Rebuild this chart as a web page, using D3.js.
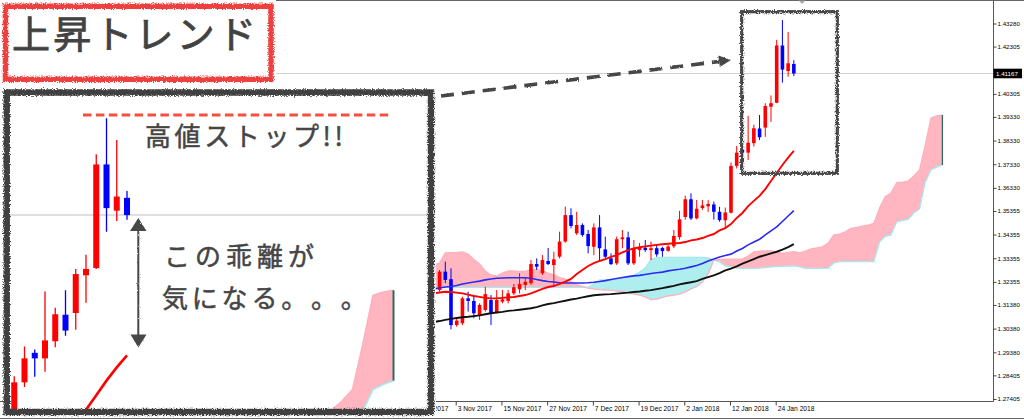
<!DOCTYPE html>
<html>
<head>
<meta charset="utf-8">
<script src="https://cdn.jsdelivr.net/npm/d3@7/dist/d3.min.js"></script>
<style>
html,body{margin:0;padding:0;background:#fff;overflow:hidden}
svg{display:block}
text{text-spacing-trim:space-all}
</style>
</head>
<body>
<svg id="chart" width="1024" height="419" xmlns="http://www.w3.org/2000/svg"></svg>
<script>
// ---------------- DATA (GBPUSD daily) ----------------
const firstBar = 4; // bar index of the first candle (bar 0 = 24 Oct 2017)
const opens = [1.3125,1.3201,1.3279,1.3247,1.3053,1.3061,1.3166,1.3155,1.3096,1.3117,
  1.3159,1.3105,1.3152,1.3155,1.3187,1.3204,1.3223,1.3230,1.3311,1.3272,
  1.3324,1.3307,1.3342,1.3406,1.3518,1.3441,1.3476,1.3438,1.3384,1.3466,
  1.3373,1.3335,1.3314,1.3416,1.3424,1.3314,1.3370,1.3380,1.3370,1.3378,
  1.3379,1.3367,1.3386,1.3425,1.3510,1.3585,1.3504,1.3548,1.3555,1.3563,
  1.3532,1.3496,1.3528,1.3726,1.3795,1.3782,1.3822,1.3884,1.3888,1.3976,
  1.3993,1.4235,1.4127,1.4157];
const highs = [1.3218,1.3286,1.3321,1.3293,1.3082,1.3173,1.3194,1.3180,1.3145,1.3215,
  1.3180,1.3201,1.3201,1.3201,1.3227,1.3272,1.3251,1.3328,1.3335,1.3349,
  1.3379,1.3363,1.3448,1.3554,1.3547,1.3532,1.3483,1.3455,1.3483,1.3518,
  1.3427,1.3356,1.3427,1.3455,1.3448,1.3413,1.3400,1.3413,1.3406,1.3392,
  1.3384,1.3392,1.3455,1.3536,1.3600,1.3610,1.3582,1.3582,1.3581,1.3575,
  1.3553,1.3550,1.3740,1.3810,1.3803,1.3938,1.3900,1.3941,1.3991,1.4024,
  1.4259,1.4343,1.4292,1.4173];
const lows = [1.3117,1.3194,1.3230,1.3035,1.3046,1.3053,1.3110,1.3082,1.3075,1.3110,
  1.3053,1.3103,1.3145,1.3145,1.3180,1.3187,1.3201,1.3223,1.3286,1.3265,
  1.3307,1.3215,1.3335,1.3401,1.3462,1.3434,1.3427,1.3356,1.3349,1.3328,
  1.3335,1.3307,1.3307,1.3378,1.3307,1.3307,1.3342,1.3363,1.3328,1.3342,
  1.3342,1.3363,1.3378,1.3414,1.3499,1.3497,1.3500,1.3540,1.3532,1.3499,
  1.3490,1.3462,1.3525,1.3715,1.3739,1.3751,1.3808,1.3835,1.3849,1.3912,
  1.3991,1.4078,1.4103,1.4106];
const closes = [1.3210,1.3279,1.3244,1.3053,1.3072,1.3166,1.3155,1.3103,1.3138,1.3184,
  1.3103,1.3159,1.3162,1.3187,1.3213,1.3227,1.3236,1.3311,1.3300,1.3328,
  1.3311,1.3331,1.3406,1.3518,1.3472,1.3476,1.3434,1.3387,1.3466,1.3378,
  1.3342,1.3311,1.3416,1.3424,1.3314,1.3378,1.3379,1.3370,1.3378,1.3352,
  1.3366,1.3385,1.3430,1.3500,1.3585,1.3504,1.3545,1.3559,1.3565,1.3532,
  1.3497,1.3529,1.3726,1.3782,1.3782,1.3824,1.3885,1.3847,1.3979,1.3991,
  1.4235,1.4133,1.4160,1.41167];
// moving averages (red / blue / black)
const maFast = [1.3187,1.3191,1.3194,1.3193,1.3190,1.3187,1.3182,1.3176,1.3172,1.3168,
  1.3166,1.3166,1.3168,1.3170,1.3172,1.3176,1.3180,1.3187,1.3197,1.3206,
  1.3214,1.3218,1.3227,1.3237,1.3248,1.3269,1.3286,1.3303,1.3315,1.3324,
  1.3332,1.3341,1.3349,1.3360,1.3370,1.3377,1.3382,1.3386,1.3389,1.3392,
  1.3395,1.3397,1.3399,1.3400,1.3404,1.3411,1.3415,1.3421,1.3430,1.3438,
  1.3453,1.3463,1.3480,1.3506,1.3527,1.3556,1.3578,1.3599,1.3628,1.3662,
  1.3696,1.3730,1.3761,1.3789];
const maMid = [1.3206,1.3210,1.3214,1.3216,1.3220,1.3227,1.3231,1.3235,1.3239,1.3244,
  1.3248,1.3251,1.3252,1.3253,1.3253,1.3253,1.3253,1.3251,1.3246,1.3241,
  1.3237,1.3235,1.3232,1.3231,1.3231,1.3231,1.3231,1.3232,1.3234,1.3237,
  1.3241,1.3246,1.3250,1.3254,1.3258,1.3261,1.3263,1.3267,1.3271,1.3274,
  1.3277,1.3282,1.3286,1.3289,1.3293,1.3299,1.3305,1.3313,1.3324,1.3332,
  1.3341,1.3347,1.3353,1.3366,1.3377,1.3392,1.3404,1.3416,1.3434,1.3451,
  1.3468,1.3491,1.3514,1.3537];
const maSlow = [1.3066,1.3070,1.3075,1.3079,1.3083,1.3086,1.3088,1.3091,1.3094,1.3099,
  1.3103,1.3106,1.3109,1.3113,1.3115,1.3118,1.3121,1.3124,1.3129,1.3136,
  1.3142,1.3146,1.3151,1.3156,1.3161,1.3165,1.3170,1.3175,1.3179,1.3181,
  1.3183,1.3184,1.3186,1.3188,1.3190,1.3193,1.3195,1.3198,1.3201,1.3205,
  1.3209,1.3214,1.3219,1.3225,1.3230,1.3234,1.3239,1.3248,1.3256,1.3263,
  1.3273,1.3284,1.3292,1.3301,1.3313,1.3322,1.3332,1.3342,1.3349,1.3356,
  1.3363,1.3372,1.3383,1.3395];
// Ichimoku cloud spans (bar 4 .. bar 93, shifted forward)
const spanA = [1.3307,1.3315,1.3358,1.3359,1.3360,1.3362,1.3353,1.3330,1.3311,1.3282,
  1.3265,1.3260,1.3273,1.3282,1.3282,1.3280,1.3280,1.3288,1.3286,1.3282,
  1.3273,1.3265,1.3254,1.3248,1.3237,1.3225,1.3216,1.3209,1.3206,1.3203,
  1.3201,1.3201,1.3197,1.3195,1.3191,1.3184,1.3180,1.3172,1.3161,1.3163,
  1.3170,1.3176,1.3180,1.3184,1.3193,1.3206,1.3216,1.3235,1.3269,1.3328,
  1.3331,1.3332,1.3332,1.3332,1.3332,1.3345,1.3363,1.3366,1.3367,1.3367,
  1.3362,1.3356,1.3360,1.3363,1.3358,1.3366,1.3375,1.3379,1.3384,1.3400,
  1.3434,1.3438,1.3447,1.3462,1.3466,1.3471,1.3476,1.3483,1.3548,1.3596,
  1.3611,1.3655,1.3657,1.3662,1.3683,1.3709,1.3814,1.3929,1.3937,1.3941];
const spanB = [1.3212,1.3212,1.3212,1.3212,1.3212,1.3212,1.3212,1.3212,1.3212,1.3212,
  1.3212,1.3212,1.3212,1.3212,1.3212,1.3212,1.3212,1.3212,1.3212,1.3212,
  1.3212,1.3212,1.3212,1.3212,1.3212,1.3212,1.3212,1.3212,1.3227,1.3244,
  1.3244,1.3244,1.3248,1.3250,1.3256,1.3263,1.3277,1.3294,1.3332,1.3337,
  1.3339,1.3339,1.3339,1.3339,1.3339,1.3339,1.3339,1.3339,1.3337,1.3328,
  1.3320,1.3303,1.3299,1.3294,1.3293,1.3293,1.3293,1.3294,1.3296,1.3299,
  1.3300,1.3301,1.3302,1.3303,1.3299,1.3293,1.3293,1.3293,1.3293,1.3293,
  1.3315,1.3321,1.3321,1.3321,1.3321,1.3321,1.3321,1.3321,1.3404,1.3428,
  1.3434,1.3489,1.3495,1.3500,1.3527,1.3544,1.3658,1.3709,1.3721,1.3730];
const priceTicks = [1.43280,1.42305,1.41305,1.40305,1.39330,1.38330,1.37330,1.36330,
  1.35355,1.34355,1.33355,1.32355,1.31380,1.30380,1.29380,1.28405,1.27405];
const dateTicks = ["24 Oct 2017","3 Nov 2017","15 Nov 2017","27 Nov 2017","7 Dec 2017",
  "19 Dec 2017","2 Jan 2018","12 Jan 2018","24 Jan 2018"];
const dateTickBars = [0,8,16,24,32,40,48,56,64];
const lastPrice = 1.41167;
const titleText = "上昇トレンド";
const noteHigh = "高値ストップ!!";
const noteGap1 = "この乖離が";
const noteGap2 = "気になる。。。";

// ---------------- SETUP ----------------
const W = 1024, H = 419;
const svg = d3.select("#chart");
const defs = svg.append("defs");
function roughFilter(id, freq, scale, seed) {
  const f = defs.append("filter").attr("id", id).attr("filterUnits", "userSpaceOnUse")
    .attr("x", 0).attr("y", 0).attr("width", W).attr("height", H);
  f.append("feTurbulence").attr("type", "fractalNoise").attr("baseFrequency", freq)
    .attr("numOctaves", 2).attr("seed", seed).attr("result", "n");
  f.append("feDisplacementMap").attr("in", "SourceGraphic").attr("in2", "n")
    .attr("scale", scale).attr("xChannelSelector", "R").attr("yChannelSelector", "G");
}
roughFilter("rough", 0.9, 4.5, 2);
roughFilter("roughSoft", 0.7, 2.2, 5);

svg.append("rect").attr("width", W).attr("height", H).attr("fill", "#fff");

const plotRight = 993.5, plotBottom = 401.5;
defs.append("clipPath").attr("id", "plotClip").append("rect")
  .attr("x", 0).attr("y", 0).attr("width", plotRight).attr("height", plotBottom);

const x = d3.scaleLinear().domain([0, 64]).range([411, 776.7]);
const y = d3.scaleLinear().domain([1.27405, 1.43280]).range([399, 23.5]);

function drawChart(g, xs, ys, opt, id) {
  const cloud = spanA.map((a, k) => ({ i: firstBar + k, a, b: spanB[k] }));
  const above = d3.area().x(d => xs(d.i)).y0(-5000).y1(d => ys(d.b));
  const below = d3.area().x(d => xs(d.i)).y0(5000).y1(d => ys(d.b));
  defs.append("clipPath").attr("id", id + "Above").append("path").attr("d", above(cloud));
  defs.append("clipPath").attr("id", id + "Below").append("path").attr("d", below(cloud));
  const band = d3.area().x(d => xs(d.i)).y0(d => ys(d.a)).y1(d => ys(d.b));
  g.append("path").attr("d", band(cloud)).attr("fill", "#ffb6c1").attr("clip-path", `url(#${id}Above)`);
  g.append("path").attr("d", band(cloud)).attr("fill", "#afeeee").attr("clip-path", `url(#${id}Below)`);
  g.append("path").attr("d", d3.line().x(d => xs(d.i)).y(d => ys(d.b))(cloud))
    .attr("fill", "none").attr("stroke", "#a8e8ec").attr("stroke-width", opt.spanW);
  g.append("path").attr("d", d3.line().x(d => xs(d.i)).y(d => ys(d.a))(cloud))
    .attr("fill", "none").attr("stroke", "#ffb0bc").attr("stroke-width", opt.spanW);
  const last = cloud[cloud.length - 1];
  g.append("line").attr("x1", xs(last.i)).attr("x2", xs(last.i))
    .attr("y1", ys(last.a)).attr("y2", ys(last.b))
    .attr("stroke", "#2f6b5c").attr("stroke-width", opt.endW);

  const bars = opens.map((o, k) => ({ i: firstBar + k, o, h: highs[k], l: lows[k], c: closes[k] }));
  const col = d => d.c >= d.o ? "#ff0000" : "#0000ff";
  g.selectAll(null).data(bars).join("line")
    .attr("x1", d => xs(d.i)).attr("x2", d => xs(d.i))
    .attr("y1", d => ys(d.h)).attr("y2", d => ys(d.l))
    .attr("stroke", col).attr("stroke-width", opt.wick);
  g.selectAll(null).data(bars).join("rect")
    .attr("x", d => xs(d.i) - opt.body / 2).attr("width", opt.body)
    .attr("y", d => ys(Math.max(d.o, d.c)))
    .attr("height", d => Math.max(1.2, Math.abs(ys(d.o) - ys(d.c))))
    .attr("fill", col);

  const maLine = d3.line().x((v, k) => xs(firstBar + k)).y(v => ys(v));
  g.append("path").attr("d", maLine(maSlow)).attr("fill", "none").attr("stroke", "#111").attr("stroke-width", opt.maW);
  g.append("path").attr("d", maLine(maMid)).attr("fill", "none").attr("stroke", "#2a2af2").attr("stroke-width", opt.maW * 0.85);
  g.append("path").attr("d", maLine(maFast)).attr("fill", "none").attr("stroke", "#ff0000").attr("stroke-width", opt.maW);
}

// ---------------- MAIN CHART ----------------
const gMain = svg.append("g").attr("clip-path", "url(#plotClip)");
gMain.append("line").attr("x1", 0).attr("x2", plotRight)
  .attr("y1", y(lastPrice)).attr("y2", y(lastPrice))
  .attr("stroke", "#cfcfcf").attr("stroke-width", 1);
drawChart(gMain, x, y, { body: 3.6, wick: 1, maW: 1.9, spanW: 1.3, endW: 1.3 }, "main");

// axes frame
svg.append("line").attr("x1", plotRight).attr("x2", plotRight).attr("y1", 0).attr("y2", plotBottom)
  .attr("stroke", "#555").attr("stroke-width", 1);
svg.append("line").attr("x1", 0).attr("x2", plotRight).attr("y1", plotBottom).attr("y2", plotBottom)
  .attr("stroke", "#555").attr("stroke-width", 1);
svg.append("line").attr("x1", 273).attr("x2", W).attr("y1", 0.5).attr("y2", 0.5)
  .attr("stroke", "#666").attr("stroke-width", 1);
svg.append("line").attr("x1", 0).attr("x2", W).attr("y1", 418.5).attr("y2", 418.5)
  .attr("stroke", "#666").attr("stroke-width", 1);
svg.append("path").attr("d", "M798.5,0.5 L805.5,0.5 L802,4 Z").attr("fill", "#aaa");

// price axis: the label that sits under the last-price tag is hidden by it
const hiddenTick = d => Math.abs(y(d) - y(lastPrice)) < 7;
const yAxis = d3.axisRight(y).tickValues(priceTicks)
  .tickFormat(d => hiddenTick(d) ? "" : d3.format(".5f")(d)).tickSize(3).tickSizeOuter(0);
const gy = svg.append("g").attr("transform", `translate(${plotRight},0)`).call(yAxis)
  .attr("font-family", "'Liberation Sans', Arial, sans-serif").attr("font-size", 6.2);
gy.select(".domain").remove();
gy.selectAll(".tick line").attr("stroke", "#444");
gy.selectAll(".tick text").attr("x", 4).attr("fill", "#000");

const xAxis = d3.axisBottom(x).tickValues(dateTickBars).tickFormat((d, k) => dateTicks[k]).tickSize(4).tickSizeOuter(0);
const gx = svg.append("g").attr("transform", `translate(-1,${plotBottom})`).call(xAxis)
  .attr("font-family", "'Liberation Sans', Arial, sans-serif").attr("font-size", 6.7);
gx.select(".domain").remove();
gx.selectAll(".tick line").attr("stroke", "#444");
gx.selectAll(".tick text").attr("text-anchor", "start").attr("x", 1.5).attr("y", 4.4).attr("fill", "#000");

// last price tag
svg.append("rect").attr("x", plotRight).attr("y", y(lastPrice) - 4.8).attr("width", 28.5).attr("height", 9.6).attr("fill", "#000");
svg.append("text").attr("x", plotRight + 2.5).attr("y", y(lastPrice)).attr("dy", "0.35em")
  .attr("font-family", "'Liberation Sans', Arial, sans-serif").attr("font-size", 6.2)
  .attr("fill", "#fff").text(d3.format(".5f")(lastPrice));

// highlight box around latest candles
svg.append("rect").attr("x", 741.7).attr("y", 11.7).attr("width", 95.6).attr("height", 161.6)
  .attr("fill", "none").attr("stroke", "#474747").attr("stroke-width", 3.2).attr("filter", "url(#rough)");

// dashed pointer arrow
const arrowG = svg.append("g").attr("filter", "url(#roughSoft)");
arrowG.append("line").attr("x1", 441).attr("y1", 96).attr("x2", 719).attr("y2", 61.5)
  .attr("stroke", "#474747").attr("stroke-width", 3.6).attr("stroke-dasharray", "13 8");
arrowG.append("path").attr("d", "M731,60 L718.4,55.6 L719.8,67 Z").attr("fill", "#474747");

// ---------------- TITLE ----------------
svg.append("rect").attr("x", 0).attr("y", 0).attr("width", 276).attr("height", 85).attr("fill", "#fff");
svg.append("rect").attr("x", 5.5).attr("y", 6.3).attr("width", 265.5).attr("height", 73)
  .attr("fill", "none").attr("stroke", "#ef3f3f").attr("stroke-width", 5.5).attr("filter", "url(#rough)");
svg.append("text").attr("x", 12).attr("y", 48).text(titleText)
  .attr("font-family", "'Noto Sans CJK JP', sans-serif").attr("font-size", 38)
  .attr("font-weight", 400).attr("letter-spacing", 3.2).attr("fill", "#424242")
  .attr("stroke", "#424242").attr("stroke-width", 0.8);

// ---------------- INSET (magnified view) ----------------
const xIn = d3.scaleLinear().domain([65, 93]).range([106.5, 393.5]);
const yIn = d3.scaleLinear().domain([1.43428, 1.35]).range([118.3, 479.1]);
svg.append("rect").attr("x", 3).attr("y", 87).attr("width", 433).attr("height", 331).attr("fill", "#fff");
defs.append("clipPath").attr("id", "insetClip").append("rect")
  .attr("x", 6.7).attr("y", 92.5).attr("width", 424.3).attr("height", 319.5);
const gIn = svg.append("g").attr("clip-path", "url(#insetClip)");
gIn.append("line").attr("x1", 0).attr("x2", 440).attr("y1", yIn(lastPrice)).attr("y2", yIn(lastPrice))
  .attr("stroke", "#d4d4d4").attr("stroke-width", 1.5);
drawChart(gIn, xIn, yIn, { body: 6, wick: 1.3, maW: 2.6, spanW: 1.6, endW: 2 }, "inset");

// annotations in inset
svg.append("line").attr("x1", 83).attr("x2", 392).attr("y1", 115).attr("y2", 115)
  .attr("stroke", "#f4503f").attr("stroke-width", 3.2).attr("stroke-dasharray", "8.5 4.4");
const jp = "'Noto Sans CJK JP', sans-serif";
function note(txt, xx, yy, ls) {
  svg.append("text").attr("x", xx).attr("y", yy).text(txt)
    .attr("font-family", jp).attr("font-size", 26).attr("font-weight", 400)
    .attr("letter-spacing", ls).attr("fill", "#454545")
    .attr("stroke", "#454545").attr("stroke-width", 0.5);
}
note(noteHigh, 145, 146, 3.6);
note(noteGap1, 164, 266, 5);
note(noteGap2, 162, 308, 3.8);

const dbl = svg.append("g").attr("filter", "url(#roughSoft)");
dbl.append("line").attr("x1", 138.3).attr("x2", 138.3).attr("y1", 229).attr("y2", 336)
  .attr("stroke", "#474747").attr("stroke-width", 2);
dbl.append("path").attr("d", "M138.3,218 L130,231 L146.5,231 Z").attr("fill", "#474747");
dbl.append("path").attr("d", "M138.3,347.5 L130.5,334.5 L146.5,334.5 Z").attr("fill", "#474747");

// inset frame
svg.append("rect").attr("x", 6.7).attr("y", 92.5).attr("width", 424.3).attr("height", 319.5)
  .attr("fill", "none").attr("stroke", "#404040").attr("stroke-width", 6.5).attr("filter", "url(#rough)");
</script>
</body>
</html>
